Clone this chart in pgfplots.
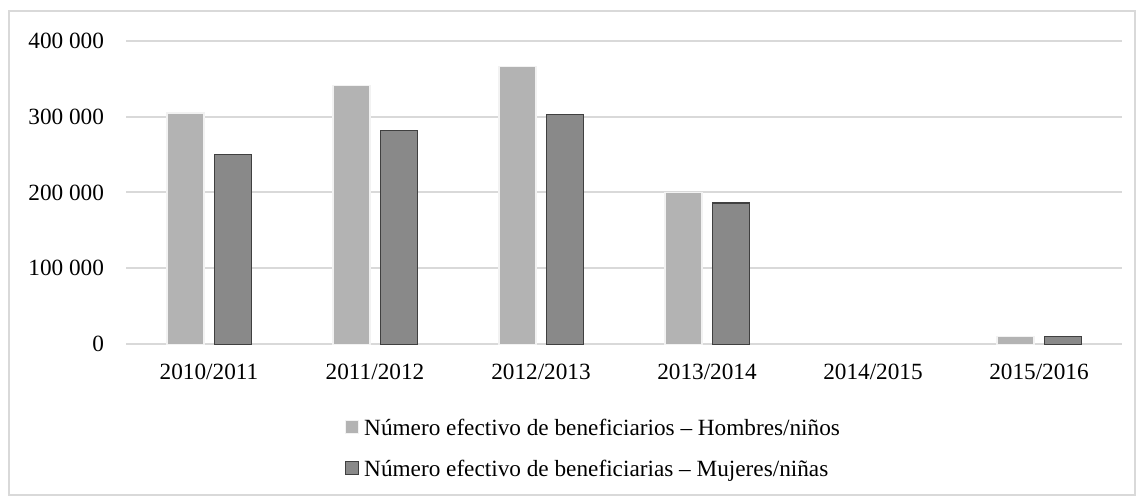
\documentclass[border=0pt]{standalone}
\usepackage{fontspec}
\setmainfont{Liberation Serif}
\usepackage{pgfplots}
\pgfplotsset{compat=1.18}

\definecolor{barlight}{HTML}{B3B3B3}
\definecolor{barlightedge}{HTML}{F2F2F2}
\definecolor{bardark}{HTML}{898989}
\definecolor{bardarkedge}{HTML}{404040}
\definecolor{gridgray}{HTML}{D9D9D9}

\newcommand{\chartfont}{\fontsize{17.5}{21}\selectfont}

\begin{document}
\begin{tikzpicture}
  % overall canvas and light frame
  \useasboundingbox (0,0) rectangle (852.75bp,-372.75bp);
  \draw[gridgray, line width=1.1bp] (6.75bp,-8.25bp) rectangle (851.25bp,-371.25bp);

  \begin{axis}[
    at={(94.5bp,-258.2bp)}, anchor=south west,
    scale only axis,
    width=747bp, height=227.7bp,
    ybar,
    bar width=27.75bp,
    xmin=-0.5, xmax=5.5,
    ymin=0, ymax=400000,
    xtick={0,1,2,3,4,5},
    xticklabels={2010/2011,2011/2012,2012/2013,2013/2014,2014/2015,2015/2016},
    ytick={0,100000,200000,300000,400000},
    scaled y ticks=false,
    /pgf/number format/assume math mode=true,
    /pgf/number format/fixed,
    /pgf/number format/precision=0,
    /pgf/number format/1000 sep={\ },
    tick label style={font=\chartfont, inner sep=0pt},
    yticklabel style={anchor=east, xshift=-16.3bp},
    xticklabel style={anchor=north, yshift=-15bp},
    major tick length=0pt,
    tick style={draw=none},
    axis line style={draw=none},
    ymajorgrids,
    grid style={gridgray, line width=1.5bp},
    unbounded coords=discard,
    legend cell align=left,
    legend style={
      at={(0.2199,-0.245)}, anchor=north west,
      draw=none, fill=none, inner sep=0pt, outer sep=0pt,
      font=\chartfont,
      row sep=14.75bp, column sep=3.75bp,
      nodes={inner sep=0pt, text height=12.5bp, text depth=3.5bp},
    },
    legend image code/.code={
      \draw[#1, line width=0.9bp] (0bp,-3bp) rectangle (9.75bp,6.75bp);
    },
  ]
    % men and boys
    \addplot[fill=barlight, draw=barlightedge, line width=1.1bp, bar shift=-17.8bp]
      coordinates {(0,305000) (1,341000) (2,366000) (3,200000) (4,nan) (5,10000)};
    \addlegendentry{Número efectivo de beneficiarios – Hombres/niños}
    % women and girls
    \addplot[fill=bardark, draw=bardarkedge, line width=1.1bp, bar shift=17.8bp]
      coordinates {(0,250000) (1,282000) (2,303000) (3,186000) (4,nan) (5,10000)};
    \addlegendentry{Número efectivo de beneficiarias – Mujeres/niñas}
  \end{axis}
\end{tikzpicture}
\end{document}
